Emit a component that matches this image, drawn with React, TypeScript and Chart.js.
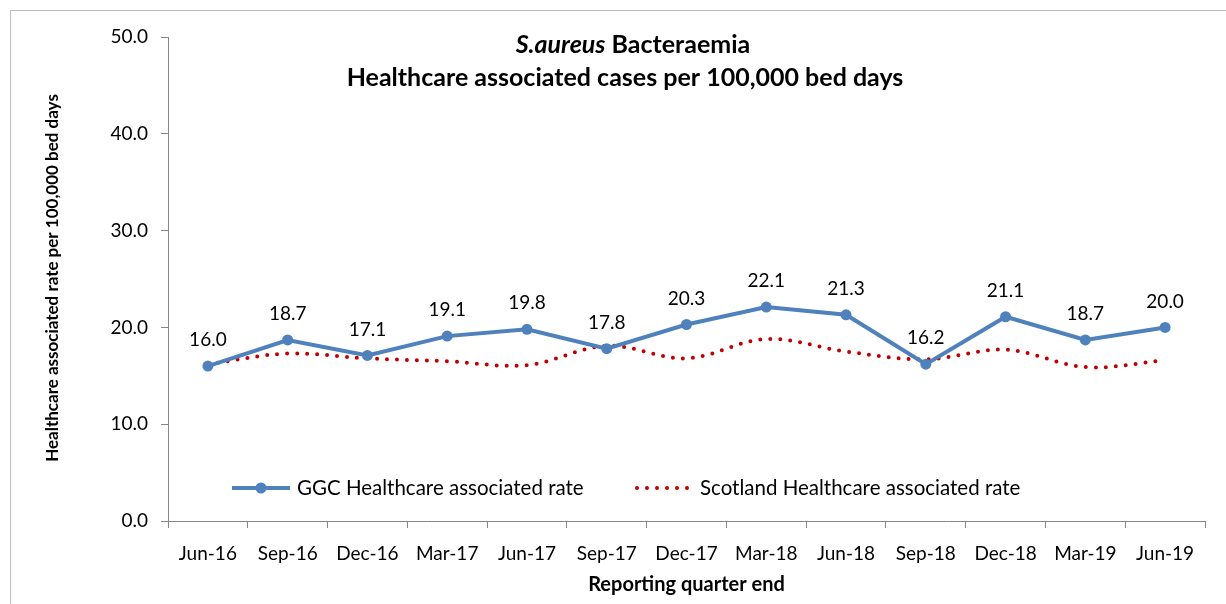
import React, { useEffect, useRef } from "react";
import { Chart, registerables } from "chart.js";

Chart.register(...registerables);

const categories = ["Jun-16", "Sep-16", "Dec-16", "Mar-17", "Jun-17", "Sep-17", "Dec-17", "Mar-18", "Jun-18", "Sep-18", "Dec-18", "Mar-19", "Jun-19"];
const ggcRate = [16.0, 18.7, 17.1, 19.1, 19.8, 17.8, 20.3, 22.1, 21.3, 16.2, 21.1, 18.7, 20.0];
const scotlandRate = [16.2, 17.3, 16.8, 16.5, 16.1, 18.1, 16.8, 18.8, 17.5, 16.7, 17.7, 15.9, 16.6];
const yTickValues = [0, 10, 20, 30, 40, 50];
const ggcLabel = "GGC Healthcare associated rate";
const scotlandLabel = "Scotland Healthcare associated rate";
const titleItalic = "S.aureus";
const titleRest = " Bacteraemia";
const titleLine2 = "Healthcare associated cases per 100,000 bed days";
const yAxisTitle = "Healthcare associated rate per 100,000 bed days";
const xAxisTitle = "Reporting quarter end";

const FONT = "Lato, 'Open Sans', sans-serif";
const BLUE = "#4f81bd";
const RED = "#c00000";

const decorPlugin = {
  id: "decor",
  afterDraw(chart: any) {
    const ctx = chart.ctx as CanvasRenderingContext2D;
    const ca = chart.chartArea;
    ctx.save();
    // outer border
    ctx.strokeStyle = "#bfbfbf";
    ctx.lineWidth = 1;
    ctx.strokeRect(10.5, 10.5, 1400, 800);

    // title
    ctx.fillStyle = "#000";
    ctx.textBaseline = "middle";
    ctx.font = `italic bold 25px ${FONT}`;
    const w1 = ctx.measureText(titleItalic).width;
    ctx.font = `bold 25px ${FONT}`;
    const w2 = ctx.measureText(titleRest).width;
    const start = 633 - (w1 + w2) / 2;
    ctx.textAlign = "left";
    ctx.font = `italic bold 25px ${FONT}`;
    ctx.fillText(titleItalic, start, 45);
    ctx.font = `bold 25px ${FONT}`;
    ctx.fillText(titleRest, start + w1, 45);
    ctx.textAlign = "center";
    ctx.fillText(titleLine2, 625, 78);

    // axis titles
    ctx.font = `bold 20px ${FONT}`;
    ctx.fillText(xAxisTitle, (ca.left + ca.right) / 2, 585);
    ctx.save();
    ctx.translate(53, 278);
    ctx.rotate(-Math.PI / 2);
    ctx.font = `bold 17px ${FONT}`;
    ctx.fillText(yAxisTitle, 0, 0);
    ctx.restore();

    // data labels
    const meta = chart.getDatasetMeta(0);
    ctx.font = `19px ${FONT}`;
    ctx.textAlign = "center";
    meta.data.forEach((pt: any, i: number) => {
      ctx.fillText(ggcRate[i].toFixed(1), pt.x, pt.y - 26);
    });

    // legend
    const ly = ca.bottom - 33;
    const lx = ca.left + 64;
    ctx.strokeStyle = BLUE;
    ctx.lineWidth = 4;
    ctx.lineCap = "butt";
    ctx.beginPath();
    ctx.moveTo(lx, ly);
    ctx.lineTo(lx + 58, ly);
    ctx.stroke();
    ctx.fillStyle = BLUE;
    ctx.beginPath();
    ctx.arc(lx + 29, ly, 5.5, 0, Math.PI * 2);
    ctx.fill();
    ctx.fillStyle = "#000";
    ctx.textAlign = "left";
    ctx.font = `20.5px ${FONT}`;
    ctx.fillText(ggcLabel, lx + 65, ly);

    const sx = ca.left + 469;
    ctx.strokeStyle = RED;
    ctx.lineWidth = 4;
    ctx.lineCap = "round";
    ctx.setLineDash([0, 10]);
    ctx.beginPath();
    ctx.moveTo(sx, ly);
    ctx.lineTo(sx + 54, ly);
    ctx.stroke();
    ctx.setLineDash([]);
    ctx.fillText(scotlandLabel, sx + 63, ly);
    ctx.restore();
  },
};

export default function App() {
  const ref = useRef<HTMLCanvasElement | null>(null);
  useEffect(() => {
    if (!ref.current) return;
    const chart = new Chart(ref.current, {
      type: "line",
      data: {
        labels: categories,
        datasets: [
          {
            label: ggcLabel,
            data: ggcRate,
            borderColor: BLUE,
            backgroundColor: BLUE,
            borderWidth: 4,
            pointRadius: 5.5,
            pointBackgroundColor: BLUE,
            pointBorderWidth: 0,
            tension: 0,
            order: 0,
          },
          {
            label: scotlandLabel,
            data: scotlandRate,
            borderColor: RED,
            borderWidth: 4,
            borderDash: [0, 10],
            borderCapStyle: "round",
            pointRadius: 0,
            tension: 0.35,
            order: 1,
          },
        ],
      },
      options: {
        animation: false,
        responsive: true,
        maintainAspectRatio: false,
        layout: { padding: { top: 37, right: 21, left: 0, bottom: 0 } },
        plugins: {
          legend: { display: false },
          title: { display: false },
          tooltip: { enabled: false },
        },
        scales: {
          x: {
            offset: true,
            grid: { display: true, drawOnChartArea: false, offset: true, tickLength: 7, color: "#868686" },
            border: { display: true, color: "#868686", width: 1 },
            ticks: { font: { family: FONT, size: 19 }, color: "#000", padding: 14, maxRotation: 0, autoSkip: false },
            afterFit: (s: any) => { s.height = 83; },
          },
          y: {
            min: 0,
            max: 50,
            afterBuildTicks: (s: any) => { s.ticks = yTickValues.map((v) => ({ value: v })); },
            grid: { display: true, drawOnChartArea: false, tickLength: 7, color: "#868686" },
            border: { display: true, color: "#868686", width: 1 },
            ticks: { font: { family: FONT, size: 19 }, color: "#000", padding: 13, callback: (v: any) => Number(v).toFixed(1) },
            afterFit: (s: any) => { s.width = 168; },
          },
        },
      },
      plugins: [decorPlugin],
    });
    return () => chart.destroy();
  }, []);
  return (
    <div style={{ position: "fixed", left: 0, top: 0, width: 1226, height: 604, background: "#fff" }}>
      <canvas ref={ref} />
    </div>
  );
}
